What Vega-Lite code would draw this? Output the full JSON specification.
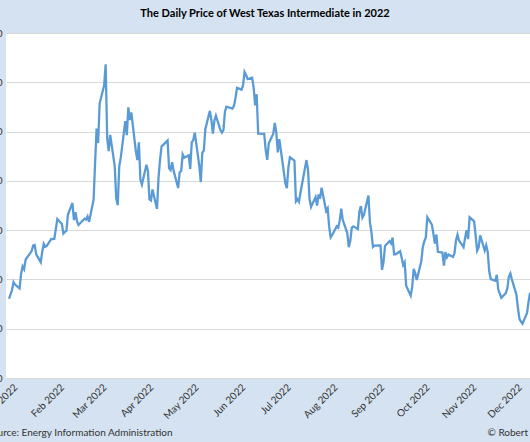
{
  "$schema": "https://vega.github.io/schema/vega-lite/v6.json",
  "width": 524,
  "height": 345,
  "autosize": {"type": "none"},
  "padding": {"left": 6, "top": 33, "right": 0, "bottom": 64},
  "background": "#d5e2f1",
  "view": {"fill": "white", "stroke": null},
  "title": {"text": "The Daily Price of West Texas Intermediate in 2022", "anchor": "middle", "font": "Lato", "fontSize": 11, "fontWeight": "bold", "color": "#000000", "offset": 9, "dx": -3},
  "data": {"values": [
    {"date": "2022-01-03", "price": 76.08}, {"date": "2022-01-04", "price": 76.99}, {"date": "2022-01-05", "price": 77.85}, {"date": "2022-01-06", "price": 79.46}, {"date": "2022-01-07", "price": 78.97},
    {"date": "2022-01-10", "price": 78.19}, {"date": "2022-01-11", "price": 81.19}, {"date": "2022-01-12", "price": 82.67}, {"date": "2022-01-13", "price": 82.10}, {"date": "2022-01-14", "price": 84.03},
    {"date": "2022-01-18", "price": 85.75}, {"date": "2022-01-19", "price": 86.90}, {"date": "2022-01-20", "price": 86.98}, {"date": "2022-01-21", "price": 85.11},
    {"date": "2022-01-24", "price": 83.50}, {"date": "2022-01-25", "price": 85.61}, {"date": "2022-01-26", "price": 87.24}, {"date": "2022-01-27", "price": 86.62}, {"date": "2022-01-28", "price": 86.82},
    {"date": "2022-01-31", "price": 88.22}, {"date": "2022-02-01", "price": 88.20}, {"date": "2022-02-02", "price": 88.26}, {"date": "2022-02-03", "price": 90.23}, {"date": "2022-02-04", "price": 92.27},
    {"date": "2022-02-07", "price": 91.25}, {"date": "2022-02-08", "price": 89.32}, {"date": "2022-02-09", "price": 89.64}, {"date": "2022-02-10", "price": 89.86}, {"date": "2022-02-11", "price": 93.17},
    {"date": "2022-02-14", "price": 95.51}, {"date": "2022-02-15", "price": 92.05}, {"date": "2022-02-16", "price": 93.66}, {"date": "2022-02-17", "price": 91.84}, {"date": "2022-02-18", "price": 91.04},
    {"date": "2022-02-22", "price": 92.32}, {"date": "2022-02-23", "price": 92.15}, {"date": "2022-02-24", "price": 92.77}, {"date": "2022-02-25", "price": 91.68},
    {"date": "2022-02-28", "price": 96.13}, {"date": "2022-03-01", "price": 103.66}, {"date": "2022-03-02", "price": 110.62}, {"date": "2022-03-03", "price": 107.67}, {"date": "2022-03-04", "price": 115.68},
    {"date": "2022-03-07", "price": 119.40}, {"date": "2022-03-08", "price": 123.64}, {"date": "2022-03-09", "price": 108.70}, {"date": "2022-03-10", "price": 106.02}, {"date": "2022-03-11", "price": 109.33},
    {"date": "2022-03-14", "price": 103.01}, {"date": "2022-03-15", "price": 96.44}, {"date": "2022-03-16", "price": 95.04}, {"date": "2022-03-17", "price": 102.98}, {"date": "2022-03-18", "price": 104.70},
    {"date": "2022-03-21", "price": 112.12}, {"date": "2022-03-22", "price": 109.27}, {"date": "2022-03-23", "price": 114.93}, {"date": "2022-03-24", "price": 112.34}, {"date": "2022-03-25", "price": 113.90},
    {"date": "2022-03-28", "price": 105.96}, {"date": "2022-03-29", "price": 104.24}, {"date": "2022-03-30", "price": 107.82}, {"date": "2022-03-31", "price": 100.28}, {"date": "2022-04-01", "price": 99.27},
    {"date": "2022-04-04", "price": 103.28}, {"date": "2022-04-05", "price": 101.96}, {"date": "2022-04-06", "price": 96.23}, {"date": "2022-04-07", "price": 96.03}, {"date": "2022-04-08", "price": 98.26},
    {"date": "2022-04-11", "price": 94.29}, {"date": "2022-04-12", "price": 100.60}, {"date": "2022-04-13", "price": 104.25}, {"date": "2022-04-14", "price": 106.95},
    {"date": "2022-04-18", "price": 108.21}, {"date": "2022-04-19", "price": 102.56}, {"date": "2022-04-20", "price": 102.19}, {"date": "2022-04-21", "price": 103.79}, {"date": "2022-04-22", "price": 102.07},
    {"date": "2022-04-25", "price": 98.54}, {"date": "2022-04-26", "price": 101.70}, {"date": "2022-04-27", "price": 102.02}, {"date": "2022-04-28", "price": 105.36}, {"date": "2022-04-29", "price": 104.69},
    {"date": "2022-05-02", "price": 105.17}, {"date": "2022-05-03", "price": 102.41}, {"date": "2022-05-04", "price": 107.81}, {"date": "2022-05-05", "price": 108.26}, {"date": "2022-05-06", "price": 109.77},
    {"date": "2022-05-09", "price": 103.09}, {"date": "2022-05-10", "price": 99.76}, {"date": "2022-05-11", "price": 105.71}, {"date": "2022-05-12", "price": 106.13}, {"date": "2022-05-13", "price": 110.49},
    {"date": "2022-05-16", "price": 114.20}, {"date": "2022-05-17", "price": 112.40}, {"date": "2022-05-18", "price": 109.59}, {"date": "2022-05-19", "price": 112.21}, {"date": "2022-05-20", "price": 113.23},
    {"date": "2022-05-23", "price": 110.29}, {"date": "2022-05-24", "price": 109.77}, {"date": "2022-05-25", "price": 110.33}, {"date": "2022-05-26", "price": 114.09}, {"date": "2022-05-27", "price": 115.07},
    {"date": "2022-05-31", "price": 114.67}, {"date": "2022-06-01", "price": 115.26}, {"date": "2022-06-02", "price": 116.87}, {"date": "2022-06-03", "price": 118.87},
    {"date": "2022-06-06", "price": 118.50}, {"date": "2022-06-07", "price": 119.41}, {"date": "2022-06-08", "price": 122.11}, {"date": "2022-06-09", "price": 121.51}, {"date": "2022-06-10", "price": 120.67},
    {"date": "2022-06-13", "price": 120.93}, {"date": "2022-06-14", "price": 118.93}, {"date": "2022-06-15", "price": 115.31}, {"date": "2022-06-16", "price": 117.58}, {"date": "2022-06-17", "price": 109.56},
    {"date": "2022-06-21", "price": 109.52}, {"date": "2022-06-22", "price": 106.19}, {"date": "2022-06-23", "price": 104.27}, {"date": "2022-06-24", "price": 107.62},
    {"date": "2022-06-27", "price": 109.57}, {"date": "2022-06-28", "price": 111.76}, {"date": "2022-06-29", "price": 109.78}, {"date": "2022-06-30", "price": 105.76}, {"date": "2022-07-01", "price": 108.46},
    {"date": "2022-07-05", "price": 99.50}, {"date": "2022-07-06", "price": 98.53}, {"date": "2022-07-07", "price": 102.73}, {"date": "2022-07-08", "price": 104.79},
    {"date": "2022-07-11", "price": 104.09}, {"date": "2022-07-12", "price": 95.84}, {"date": "2022-07-13", "price": 96.30}, {"date": "2022-07-14", "price": 95.78}, {"date": "2022-07-15", "price": 97.59},
    {"date": "2022-07-18", "price": 102.60}, {"date": "2022-07-19", "price": 104.22}, {"date": "2022-07-20", "price": 102.26}, {"date": "2022-07-21", "price": 96.35}, {"date": "2022-07-22", "price": 94.70},
    {"date": "2022-07-25", "price": 96.70}, {"date": "2022-07-26", "price": 94.98}, {"date": "2022-07-27", "price": 97.26}, {"date": "2022-07-28", "price": 96.42}, {"date": "2022-07-29", "price": 98.62},
    {"date": "2022-08-01", "price": 93.89}, {"date": "2022-08-02", "price": 94.42}, {"date": "2022-08-03", "price": 90.66}, {"date": "2022-08-04", "price": 88.54}, {"date": "2022-08-05", "price": 89.01},
    {"date": "2022-08-08", "price": 90.76}, {"date": "2022-08-09", "price": 90.50}, {"date": "2022-08-10", "price": 91.93}, {"date": "2022-08-11", "price": 94.34}, {"date": "2022-08-12", "price": 92.09},
    {"date": "2022-08-15", "price": 89.41}, {"date": "2022-08-16", "price": 86.53}, {"date": "2022-08-17", "price": 87.85}, {"date": "2022-08-18", "price": 90.50}, {"date": "2022-08-19", "price": 90.77},
    {"date": "2022-08-22", "price": 90.23}, {"date": "2022-08-23", "price": 93.74}, {"date": "2022-08-24", "price": 94.89}, {"date": "2022-08-25", "price": 92.52}, {"date": "2022-08-26", "price": 93.06},
    {"date": "2022-08-29", "price": 97.01}, {"date": "2022-08-30", "price": 91.64}, {"date": "2022-08-31", "price": 89.55}, {"date": "2022-09-01", "price": 86.61}, {"date": "2022-09-02", "price": 86.87},
    {"date": "2022-09-06", "price": 86.88}, {"date": "2022-09-07", "price": 81.94}, {"date": "2022-09-08", "price": 83.54}, {"date": "2022-09-09", "price": 86.79},
    {"date": "2022-09-12", "price": 87.78}, {"date": "2022-09-13", "price": 87.31}, {"date": "2022-09-14", "price": 88.48}, {"date": "2022-09-15", "price": 85.10}, {"date": "2022-09-16", "price": 85.11},
    {"date": "2022-09-19", "price": 85.73}, {"date": "2022-09-20", "price": 84.45}, {"date": "2022-09-21", "price": 82.94}, {"date": "2022-09-22", "price": 83.49}, {"date": "2022-09-23", "price": 78.74},
    {"date": "2022-09-26", "price": 76.71}, {"date": "2022-09-27", "price": 78.50}, {"date": "2022-09-28", "price": 82.15}, {"date": "2022-09-29", "price": 81.23}, {"date": "2022-09-30", "price": 79.91},
    {"date": "2022-10-03", "price": 83.63}, {"date": "2022-10-04", "price": 86.52}, {"date": "2022-10-05", "price": 87.76}, {"date": "2022-10-06", "price": 88.45}, {"date": "2022-10-07", "price": 92.64},
    {"date": "2022-10-10", "price": 91.13}, {"date": "2022-10-11", "price": 89.35}, {"date": "2022-10-12", "price": 87.27}, {"date": "2022-10-13", "price": 89.11}, {"date": "2022-10-14", "price": 85.61},
    {"date": "2022-10-17", "price": 85.46}, {"date": "2022-10-18", "price": 82.82}, {"date": "2022-10-19", "price": 85.55}, {"date": "2022-10-20", "price": 84.51}, {"date": "2022-10-21", "price": 85.05},
    {"date": "2022-10-24", "price": 84.58}, {"date": "2022-10-25", "price": 85.32}, {"date": "2022-10-26", "price": 87.91}, {"date": "2022-10-27", "price": 89.08}, {"date": "2022-10-28", "price": 87.90},
    {"date": "2022-10-31", "price": 86.53}, {"date": "2022-11-01", "price": 88.37}, {"date": "2022-11-02", "price": 90.00}, {"date": "2022-11-03", "price": 88.17}, {"date": "2022-11-04", "price": 92.61},
    {"date": "2022-11-07", "price": 91.79}, {"date": "2022-11-08", "price": 88.91}, {"date": "2022-11-09", "price": 85.83}, {"date": "2022-11-10", "price": 86.47}, {"date": "2022-11-11", "price": 88.96},
    {"date": "2022-11-14", "price": 85.87}, {"date": "2022-11-15", "price": 86.92}, {"date": "2022-11-16", "price": 85.59}, {"date": "2022-11-17", "price": 81.64}, {"date": "2022-11-18", "price": 80.08},
    {"date": "2022-11-21", "price": 79.73}, {"date": "2022-11-22", "price": 80.95}, {"date": "2022-11-23", "price": 77.94}, {"date": "2022-11-25", "price": 76.28},
    {"date": "2022-11-28", "price": 77.24}, {"date": "2022-11-29", "price": 78.20}, {"date": "2022-11-30", "price": 80.55}, {"date": "2022-12-01", "price": 81.22}, {"date": "2022-12-02", "price": 79.98},
    {"date": "2022-12-05", "price": 76.93}, {"date": "2022-12-06", "price": 74.25}, {"date": "2022-12-07", "price": 72.01}, {"date": "2022-12-08", "price": 71.46}, {"date": "2022-12-09", "price": 71.02},
    {"date": "2022-12-12", "price": 73.17}, {"date": "2022-12-13", "price": 75.39}, {"date": "2022-12-14", "price": 77.28}, {"date": "2022-12-15", "price": 76.11}
  ]},
  "mark": {"type": "line", "color": "#5b9bd5", "strokeWidth": 2.3, "clip": true},
  "encoding": {
    "x": {
      "field": "date", "type": "temporal",
      "scale": {"domain": [{"year": 2022, "month": 1, "date": 1}, {"year": 2022, "month": 12, "date": 14}]},
      "axis": {
        "format": "%b %Y", "tickCount": {"interval": "month", "step": 1}, "labelAngle": -45,
        "grid": false, "ticks": false, "domain": false, "labelPadding": 4, "labelOffset": 6,
        "labelFont": "Lato", "labelFontSize": 10, "labelColor": "#333333",
        "labelOverlap": false, "labelBound": false, "labelFlush": false,
        "title": "Source: Energy Information Administration", "titleAnchor": "start", "titleAlign": "left",
        "titleX": -20, "titleY": 54, "titleBaseline": "middle", "titleFont": "Lato", "titleFontSize": 10,
        "titleFontWeight": "normal", "titleColor": "#333333"
      }
    },
    "y": {
      "field": "price", "type": "quantitative",
      "scale": {"domain": [60, 130], "nice": false, "zero": false},
      "axis": {
        "values": [60, 70, 80, 90, 100, 110, 120, 130], "format": "$.0f",
        "grid": true, "gridColor": "#d9d9d9", "gridWidth": 1, "ticks": false, "domain": false,
        "labelPadding": 4, "labelFont": "Lato", "labelFontSize": 10, "labelColor": "#333333",
        "title": "© Robert", "titleAngle": 0, "titleAlign": "left", "titleBaseline": "middle",
        "titleX": 481, "titleY": 399, "titleFont": "Lato", "titleFontSize": 10,
        "titleFontWeight": "normal", "titleColor": "#333333"
      }
    }
  }
}
